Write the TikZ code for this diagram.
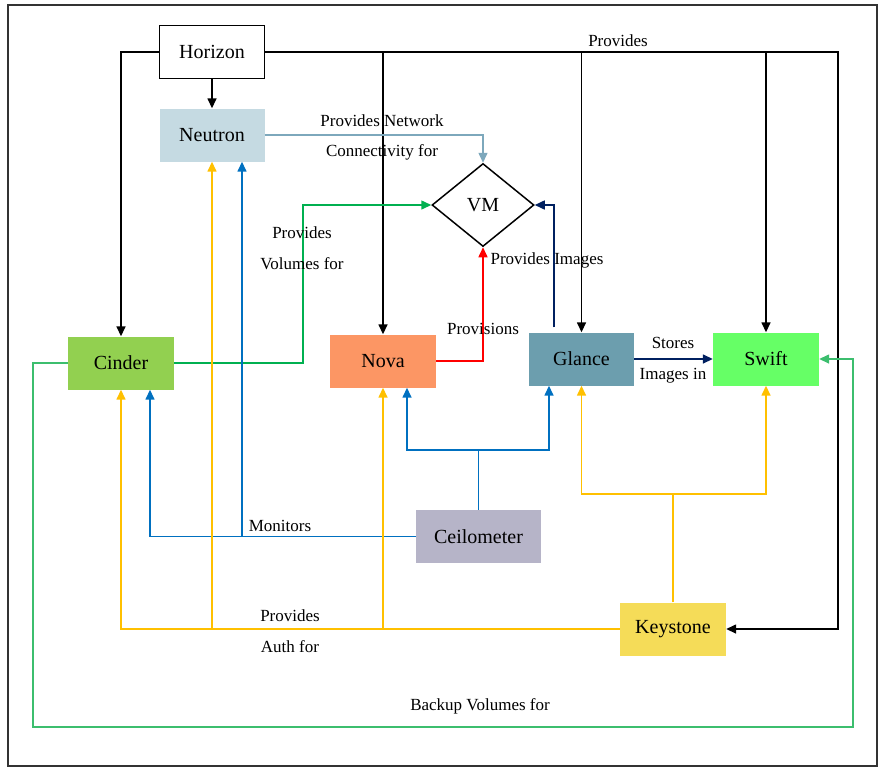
\documentclass[tikz,border=0pt]{standalone}
\usepackage{fontspec}
\setmainfont{Liberation Serif}
\usetikzlibrary{shapes.geometric,arrows.meta}
\definecolor{neutronc}{RGB}{197,218,226}
\definecolor{cinderc}{RGB}{146,208,80}
\definecolor{novac}{RGB}{252,150,100}
\definecolor{glancec}{RGB}{108,158,174}
\definecolor{swiftc}{RGB}{102,255,102}
\definecolor{ceiloc}{RGB}{182,180,200}
\definecolor{keyc}{RGB}{245,220,88}
\definecolor{netline}{RGB}{125,168,188}
\definecolor{volline}{RGB}{0,176,80}
\definecolor{bakline}{RGB}{60,190,110}
\definecolor{monline}{RGB}{0,112,192}
\definecolor{authline}{RGB}{255,192,0}
\definecolor{imgline}{RGB}{0,32,96}

\begin{document}
\begin{tikzpicture}[x=1pt,y=-1pt,
	>={Triangle[length=10pt,width=9pt]},
	comp/.style={minimum width=105pt,minimum height=53pt,inner sep=0pt,font=\fontsize{20}{24}\selectfont},
	lbl/.style={inner sep=0pt,font=\fontsize{17}{20}\selectfont},
	flow/.style={line width=1.5pt}]
	\useasboundingbox (0,0) rectangle (893,772);
	\draw[line width=1.6pt, color=black!80] (8,5) rectangle (877,766);

	\node[comp, draw=black, line width=1.5pt, fill=white] (Horizon) at (212,52) {Horizon};
	\node[comp, fill=neutronc] (Neutron) at (212,135) {Neutron};
	\node[diamond, draw=black, line width=1.5pt, minimum width=102pt, minimum height=83pt, inner sep=0pt, font=\fontsize{20}{24}\selectfont] (VM) at (483,205) {VM};
	\node[comp, minimum width=106pt, fill=cinderc] (Cinder) at (121,363) {Cinder};
	\node[comp, minimum width=106pt, fill=novac] (Nova) at (383,361) {Nova};
	\node[comp, fill=glancec] (Glance) at (581.5,359) {Glance};
	\node[comp, minimum width=106pt, fill=swiftc] (Swift) at (766,359) {Swift};
	\node[comp, minimum width=125pt, fill=ceiloc] (Ceilometer) at (478.5,536.5) {Ceilometer};
	\node[comp, minimum width=106pt, fill=keyc] (Keystone) at (673,629) {Keystone};

	\coordinate (hr) at (838,52);
	\coordinate (cv) at (303,205);
	\coordinate (cb) at (478.5,450);
	\coordinate (kb) at (673,494);
	\coordinate (bl) at (33,727);
	\coordinate (br) at (853,727);

	\draw[->,flow] (Horizon) -- (Neutron);
	\draw[->,flow] (Horizon.west) -| (Cinder.north);
	\draw[->,flow] (Horizon.east) -| (Nova.north);
	\draw[->,flow] (Horizon.east) -| (Glance.north);
	\draw[->,flow] (Horizon.east) -| (Swift.north);
	\draw[->,flow] (Horizon.east) -- (hr) |- (Keystone.east);

	\draw[->,flow,netline] (Neutron.east) -| (VM.north);
	\draw[->,flow,volline] (Cinder.east) -| (cv) -- (VM.west);
	\draw[->,flow,red] (Nova.east) -| (VM.south);
	\draw[->,flow,imgline] ([xshift=-27.5pt,yshift=5pt]Glance.north) |- (VM.east);
	\draw[->,flow,imgline] (Glance.east) -- (Swift.west);

	\draw[flow,monline] (Ceilometer.north) -- (cb);
	\draw[->,flow,monline] (cb) -| ([xshift=24pt]Nova.south);
	\draw[->,flow,monline] (cb) -| ([xshift=-32.5pt]Glance.south);
	\draw[->,flow,monline] (Ceilometer.west) -| ([xshift=29pt]Cinder.south);
	\draw[->,flow,monline] ([xshift=30pt]Neutron.south |- Ceilometer.west) -- ([xshift=30pt]Neutron.south);

	\draw[flow,authline] (Keystone.north) -- (kb);
	\draw[->,flow,authline] (kb) -| (Glance.south);
	\draw[->,flow,authline] (kb) -| (Swift.south);
	\draw[->,flow,authline] (Keystone.west) -| (Cinder.south);
	\draw[->,flow,authline] (Neutron.south |- Keystone.west) -- (Neutron.south);
	\draw[->,flow,authline] (Nova.south |- Keystone.west) -- (Nova.south);

	\draw[->,flow,bakline] (Cinder.west) -| (bl) -- (br) |- (Swift.east);

	\node[lbl] (lprov) at (618,41) {Provides};
	\node[lbl] (lnet) at (382,121) {Provides Network};
	\node[lbl] (lconn) at (382,152) {Connectivity for};
	\node[lbl] (lvol) at (302,233) {Provides};
	\node[lbl] (lvolf) at (302,264) {Volumes for};
	\node[lbl] (limg) at (547,260) {Provides Images};
	\node[lbl] (lprovis) at (483,329) {Provisions};
	\node[lbl] (lstore) at (673,343) {Stores};
	\node[lbl] (limgin) at (673,376) {Images in};
	\node[lbl] (lmon) at (280,526) {Monitors};
	\node[lbl] (lauth) at (290,616) {Provides};
	\node[lbl] (lauthf) at (290,647) {Auth for};
	\node[lbl] (lback) at (480,706) {Backup Volumes for};
\end{tikzpicture}
\end{document}
